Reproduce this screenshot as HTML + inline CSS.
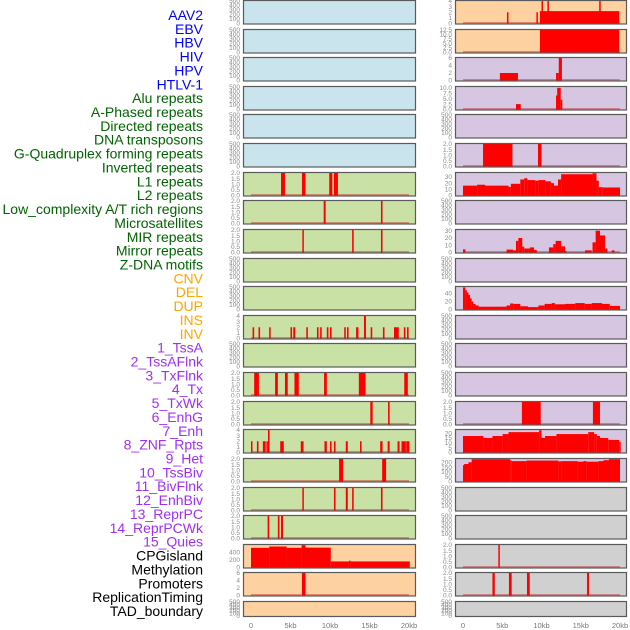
<!DOCTYPE html>
<html><head><meta charset="utf-8"><style>
html,body{margin:0;padding:0;background:#fff;}
svg{display:block;font-family:"Liberation Sans",sans-serif;}
</style></head><body>
<svg id="chart" width="630" height="630" viewBox="0 0 630 630"></svg>
<script>
// ---- labels ----
const labelNames = ["AAV2","EBV","HBV","HIV","HPV","HTLV-1","Alu repeats","A-Phased repeats","Directed repeats","DNA transposons","G-Quadruplex forming repeats","Inverted repeats","L1 repeats","L2 repeats","Low_complexity A/T rich regions","Microsatellites","MIR repeats","Mirror repeats","Z-DNA motifs","CNV","DEL","DUP","INS","INV","1_TssA","2_TssAFlnk","3_TxFlnk","4_Tx","5_TxWk","6_EnhG","7_Enh","8_ZNF_Rpts","9_Het","10_TssBiv","11_BivFlnk","12_EnhBiv","13_ReprPC","14_ReprPCWk","15_Quies","CPGisland","Methylation","Promoters","ReplicationTiming","TAD_boundary"];
const labelGroups = [0,0,0,0,0,0,1,1,1,1,1,1,1,1,1,1,1,1,1,2,2,2,2,2,3,3,3,3,3,3,3,3,3,3,3,3,3,3,3,4,4,4,4,4];
const groupColors = ["#0000ff","#006400","#ffa500","#a030f0","#000000"];

// ---- x axis ----
const xTickVals = [0,5,10,15,20];
const xTickLabels = ["0","5kb","10kb","15kb","20kb"];

// ---- tick sets ----
const tEmpty = ["0","100","200","300","400","500"];
const t2 = ["0.0","0.5","1.0","1.5","2.0"];
const t4 = ["0","1","2","3","4"];
const t6 = ["0","2","4","6"];
const t400 = ["0","200","400"];
const t125 = ["0.0","2.5","5.0","7.5","10.0","12.5"];
const t10 = ["0.0","2.5","5.0","7.5","10.0"];
const t30 = ["0","10","20","30"];
const t40 = ["0","20","40"];
const t20 = ["0","5","10","15","20"];
const t200 = ["0","50","100","150","200"];

// ---- series: [startKb, endKb, value] ----
const L6 = [[3.8,4.3,2],[6.45,6.9,2],[9.9,10.3,2],[10.5,11.0,2]];
const L7 = [[9.2,9.45,2],[16.45,16.65,2]];
const L8 = [[6.5,6.65,2],[12.8,13.0,2],[16.45,16.65,2]];
const L11 = [[0.2,0.4,2],[0.95,1.15,2],[2.3,2.45,2],[5.0,5.2,2],[5.35,5.6,2],[7.0,7.2,2],[8.35,8.55,2],[8.75,8.95,2],[9.6,9.8,2],[10.0,10.2,2],[11.8,12.0,2],[12.15,12.35,2],[13.3,13.6,2],[14.3,14.55,4],[15.15,15.35,2],[16.7,16.9,2],[18.1,18.7,2],[19.35,19.55,2],[19.75,19.95,2]];
const L13 = [[0.4,1.0,2],[3.05,3.4,2],[4.3,4.65,2],[5.5,6.05,2],[9.25,9.6,2],[13.65,14.5,2],[19.4,19.85,2]];
const L14 = [[15.1,15.4,2],[17.35,17.55,2]];
const L15 = [[0.0,0.15,2],[0.75,0.95,2],[1.5,1.85,2],[1.95,2.1,2],[2.15,2.35,4],[3.7,4.15,2],[6.3,6.65,2],[9.3,9.6,2],[10.0,10.2,2],[10.5,10.7,2],[12.0,12.25,2],[13.8,14.0,2],[16.35,16.65,2],[17.3,17.55,2],[18.55,18.8,2],[19.05,19.6,2],[19.65,20.05,2]];
const L16 = [[11.15,11.65,2],[16.6,17.1,2]];
const L17 = [[6.5,6.65,2],[10.5,10.7,2],[12.0,12.25,2],[12.8,13.0,2],[16.45,16.65,2]];
const L18 = [[2.1,2.3,2],[3.4,3.6,2],[3.8,4.05,2]];
const L19 = [[0,2.3,520],[2.3,4.5,555],[4.5,6.4,520],[6.4,6.9,590],[6.9,10.1,525],[10.1,12.4,160],[12.4,12.6,180],[12.6,20.1,160]];
const L20 = [[6.45,6.9,6]];

const R0 = [[5.6,5.75,2],[9.35,9.5,2],[9.8,19.9,2.2],[10.0,10.15,4],[10.75,10.9,4],[17.35,17.5,4]];
const R1 = [[9.8,19.9,12.5]];
const R2 = [[4.7,7.0,2],[11.85,12.2,2],[12.2,12.6,6]];
const R3 = [[6.75,7.35,2.5],[11.85,12.0,6.5],[12.0,12.45,10],[12.45,12.65,4.5]];
const R5 = [[2.55,6.3,2],[9.55,10.0,2]];
const R6 = [[0,1.8,16],[1.8,2.8,17.5],[2.8,5.8,16],[5.8,6.1,14],[6.1,7.3,19],[7.3,7.8,26],[7.8,8.2,28],[8.2,9.2,25],[9.2,9.6,24],[9.6,10.5,25],[10.5,11.2,23],[11.2,11.6,20],[11.6,12.1,16],[12.1,12.5,26],[12.5,16.5,34.5],[16.5,17.0,36],[17.0,17.3,24],[17.3,17.8,13.5],[17.8,20,13]];
const R8 = [[0,0.3,4.3],[5.55,6.4,4],[6.4,6.75,3],[6.75,7.05,16],[7.05,7.55,20],[7.55,7.8,8],[7.8,8.5,5.5],[8.5,9.05,7],[9.05,9.4,3.5],[10.95,11.5,7],[11.5,11.8,11.5],[11.8,12.5,16],[12.5,13.0,8.5],[13.0,13.15,2],[15.55,16.4,3],[16.5,16.9,14],[16.9,17.45,30],[17.45,18.1,23.5],[18.1,18.4,5.5],[18.95,19.3,3]];
const R10 = [[0,0.3,55],[0.3,0.45,48],[0.45,0.7,42],[0.7,0.9,36],[0.9,1.1,28],[1.1,1.3,20],[1.3,1.6,14],[1.6,2.0,10],[2.0,5.55,7],[5.55,6.0,10],[6.0,6.4,15],[6.4,7.3,14],[7.3,8.3,8],[8.3,9.6,6],[9.6,10.4,10],[10.4,11.3,14],[11.3,11.7,16],[11.7,13.0,13],[13.0,14.3,14],[14.3,15.5,16],[15.5,16.4,14],[16.4,17.7,16],[17.7,18.7,14],[18.7,20,9]];
const R14 = [[7.5,9.9,2],[16.55,17.45,2]];
const R15 = [[0,2.6,17],[2.6,3.75,15],[3.75,5.05,17],[5.05,5.8,19],[5.8,9.7,21],[9.7,10.0,23],[10.0,10.45,15],[10.45,11.9,17],[11.9,15.95,19],[15.95,16.7,21],[16.7,17.05,19],[17.05,17.45,17],[17.45,18.5,15],[18.5,19.9,13],[19.9,20,11]];
const R16 = [[0,0.15,170],[0.15,0.7,182],[0.7,1.1,200],[1.1,6.0,232],[6.0,6.2,220],[6.2,8.1,212],[8.1,12.15,218],[12.15,12.6,210],[12.6,14.6,212],[14.6,15.35,206],[15.35,15.75,212],[15.75,17.25,206],[17.25,17.9,212],[17.9,18.6,222],[18.6,20,232]];
const R19 = [[4.5,4.65,2]];
const R20 = [[3.75,4.05,2],[5.85,6.2,2],[8.15,8.5,2],[15.8,16.05,2]];

// ---- panel configs: [row, ticks, ymax, series] ----
const leftPanels = [[0,tEmpty,500,null],[1,tEmpty,500,null],[2,tEmpty,500,null],[3,tEmpty,500,null],[4,tEmpty,500,null],[5,tEmpty,500,null],[6,t2,2,L6],[7,t2,2,L7],[8,t2,2,L8],[9,tEmpty,500,null],[10,tEmpty,500,null],[11,t4,4,L11],[12,tEmpty,500,null],[13,t2,2,L13],[14,t2,2,L14],[15,t4,4,L15],[16,t2,2,L16],[17,t2,2,L17],[18,t2,2,L18],[19,t400,595,L19],[20,t6,6,L20],[21,tEmpty,500,null]];
const rightPanels = [[0,t4,4,R0],[1,t125,12.5,R1],[2,t6,6,R2],[3,t10,10.4,R3],[4,tEmpty,500,null],[5,t2,2,R5],[6,t30,36.5,R6],[7,tEmpty,500,null],[8,t30,31,R8],[9,tEmpty,500,null],[10,t40,56,R10],[11,tEmpty,500,null],[12,tEmpty,500,null],[13,tEmpty,500,null],[14,t2,2,R14],[15,t20,23.2,R15],[16,t200,234,R16],[17,tEmpty,500,null],[18,tEmpty,500,null],[19,t2,2,R19],[20,t2,2,R20],[21,tEmpty,500,null]];

const NS = "http://www.w3.org/2000/svg";
const svg = document.getElementById("chart");
function mk(tag, attrs, parent){const e=document.createElementNS(NS,tag);for(const k in attrs)e.setAttribute(k,attrs[k]);(parent||svg).appendChild(e);return e;}

const C = {blue:"#c9e4ec",orange:"#fed1a1",lav:"#d6c6e2",green:"#c9e1a5",gray:"#d0d0d0"};
function leftBg(r){return r<=5?C.blue:(r<=18?C.green:C.orange);}
function rightBg(r){return r<=1?C.orange:(r<=16?C.lav:C.gray);}
function rowTop(r){return Math.round(r*28.62);}
function rowH(r){return r===21?16:24.5;}

// labels
labelNames.forEach((n,i)=>{
  const t = mk("text",{x:203,y:15+i*13.86+5,"text-anchor":"end","font-size":"14",fill:groupColors[labelGroups[i]]});
  t.textContent = n;
  
  
});

function drawPanel(cfg, side){
  const [r, ticks, ymax, data] = cfg;
  const x0 = side==="L"?243:455, x1 = side==="L"?416:627;
  const xs = side==="L"?(k=>251+k*7.9):(k=>463+k*7.85);
  const top = rowTop(r), h = rowH(r), bot = top+h;
  const ys = v => (bot-1) - v/ymax*(h-2);
  const g = mk("g",{});
  
  
  const bg = mk("rect",{x:x0,y:top,width:x1-x0,height:h,fill:side==="L"?leftBg(r):rightBg(r)},g);
  
  
  ticks.forEach((lab,i)=>{
    const v = parseFloat(lab);
    const tt = mk("text",{x:x0-3,y:ys(v)+2.2,"text-anchor":"end","font-size":"6.5",fill:"#8a8a8a"},g);
    tt.textContent = lab;
    
    
  });
  if(data){
    const base = mk("rect",{x:xs(0),y:bot-2.5,width:xs(20)-xs(0),height:2,fill:"rgba(190,40,40,0.45)"},g);
    
    
    data.forEach(d=>{
      const a = xs(d[0]), b = xs(d[1]);
      const yy = Math.max(top+0.5, ys(d[2]));
      const bar = mk("rect",{x:a,y:yy,width:Math.max(1.5,b-a),height:(bot-1)-yy,fill:"#ff0000"},g);
      
      
    });
  }
  const br = mk("rect",{x:x0+0.5,y:top+0.5,width:x1-x0-1,height:h-1,fill:"none",stroke:"#5a5a5a","stroke-width":"1.2"},g);
  
  
}
leftPanels.forEach(c=>drawPanel(c,"L"));
rightPanels.forEach(c=>drawPanel(c,"R"));

// x axes
["L","R"].forEach(side=>{
  const xs = side==="L"?(k=>251+k*7.9):(k=>463+k*7.85);
  xTickVals.forEach((v,i)=>{
    const t = mk("text",{x:xs(v),y:628,"text-anchor":"middle","font-size":"7.5",fill:"#777"});
    t.textContent = xTickLabels[i];
    
    
  });
});
</script>
</body></html>
